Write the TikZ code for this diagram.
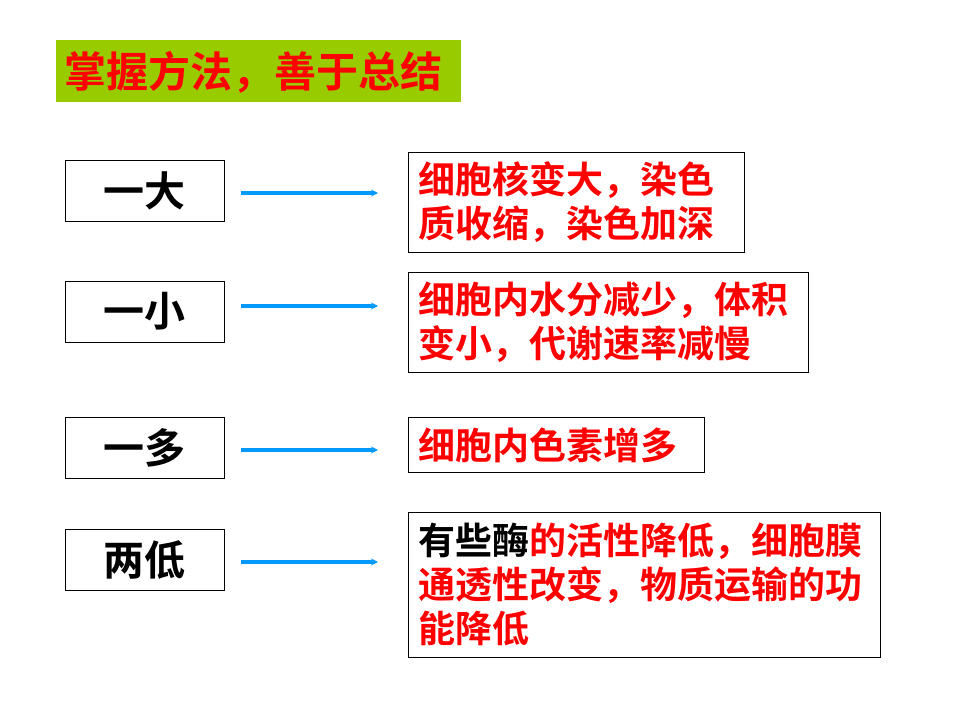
\documentclass[tikz,border=0pt]{standalone}
\usepackage{fontspec}
\setmainfont{Noto Sans CJK SC}[BoldFont={Noto Sans CJK SC Bold}]
\newfontfamily\cjk{Noto Sans CJK SC Bold}
\usetikzlibrary{arrows.meta}
\begin{document}
\begin{tikzpicture}[x=1pt,y=-1pt,
  lbox/.style={draw=black,line width=1pt,minimum width=159pt,minimum height=61pt,font=\cjk\fontsize{41pt}{44pt}\selectfont,inner sep=0pt},
  rbox/.style={draw=black,line width=0.8pt,anchor=north west,inner xsep=10pt,inner ysep=4pt,align=left,text=red,font=\cjk\fontsize{37pt}{44pt}\selectfont},
  arr/.style={color={rgb,255:red,0;green,153;blue,255},line width=3.2pt,-{Stealth[length=7pt,width=7pt]}}]
\useasboundingbox (0,0) rectangle (960,720);
\fill[white] (0,0) rectangle (960,720);
\node[fill={rgb,255:red,153;green,204;blue,0},minimum width=405pt,minimum height=62pt,anchor=north west,inner sep=0pt] (t) at (56,40) {};
\node[anchor=west,text=red,font=\cjk\fontsize{42pt}{44pt}\selectfont,inner sep=0pt] (tt) at (64,72) {掌握方法，善于总结};
\node[lbox] (a1) at (144.5,191) {一大};
\node[lbox] (a2) at (144.5,311.5) {一小};
\node[lbox] (a3) at (144.5,447.5) {一多};
\node[lbox] (a4) at (144.5,559.5) {两低};
\node[rbox,minimum width=336pt,minimum height=100pt,text width=316pt] (b1) at (408,152) {细胞核变大，染色\\质收缩，染色加深};
\node[rbox,minimum width=400pt,minimum height=100pt,text width=380pt] (b2) at (408,272) {细胞内水分减少，体积\\变小，代谢速率减慢};
\node[rbox,minimum width=296pt,minimum height=55pt,text width=276pt,inner ysep=1pt] (b3) at (408,417) {细胞内色素增多};
\node[rbox,minimum width=472pt,minimum height=145pt,text width=452pt] (b4) at (408,512) {\textcolor{black}{有些酶}的活性降低，细胞膜\\通透性改变，物质运输的功\\能降低};
\coordinate (e1) at (378,193); \coordinate (e2) at (378,306);
\coordinate (e3) at (378,450); \coordinate (e4) at (378,562);
\draw[arr] (a1.east |- e1) ++(16,0) -- (e1);
\draw[arr] (a2.east |- e2) ++(16,0) -- (e2);
\draw[arr] (a3.east |- e3) ++(16,0) -- (e3);
\draw[arr] (a4.east |- e4) ++(16,0) -- (e4);
\end{tikzpicture}
\end{document}
